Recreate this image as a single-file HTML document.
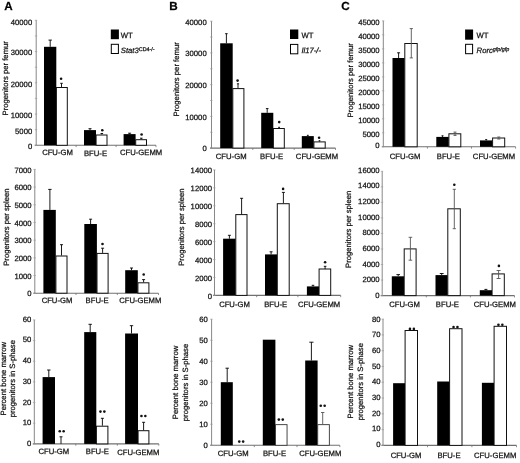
<!DOCTYPE html>
<html><head><meta charset="utf-8"><style>
html,body{margin:0;padding:0;background:#fff;}
svg{display:block;font-family:"Liberation Sans",sans-serif;will-change:transform;filter:blur(0.3px);}
text{stroke:#222;stroke-width:0.25px;paint-order:stroke;text-rendering:geometricPrecision;}
</style></head><body>
<svg width="520" height="463" viewBox="0 0 520 463">
<rect width="520" height="463" fill="#fff"/>
<line x1="36.2" y1="20.3" x2="36.2" y2="145.3" stroke="#888" stroke-width="1.0"/>
<line x1="34.7" y1="145.3" x2="156" y2="145.3" stroke="#707070" stroke-width="1.1"/>
<line x1="34.8" y1="20.3" x2="37.2" y2="20.3" stroke="#999" stroke-width="0.7"/>
<line x1="34.8" y1="35.93" x2="37.2" y2="35.93" stroke="#999" stroke-width="0.7"/>
<line x1="34.8" y1="51.55" x2="37.2" y2="51.55" stroke="#999" stroke-width="0.7"/>
<line x1="34.8" y1="67.18" x2="37.2" y2="67.18" stroke="#999" stroke-width="0.7"/>
<line x1="34.8" y1="82.8" x2="37.2" y2="82.8" stroke="#999" stroke-width="0.7"/>
<line x1="34.8" y1="98.43" x2="37.2" y2="98.43" stroke="#999" stroke-width="0.7"/>
<line x1="34.8" y1="114.05" x2="37.2" y2="114.05" stroke="#999" stroke-width="0.7"/>
<line x1="34.8" y1="129.68" x2="37.2" y2="129.68" stroke="#999" stroke-width="0.7"/>
<line x1="34.8" y1="145.3" x2="37.2" y2="145.3" stroke="#999" stroke-width="0.7"/>
<line x1="76.1" y1="145.3" x2="76.1" y2="147.1" stroke="#707070" stroke-width="0.8"/>
<line x1="116.1" y1="145.3" x2="116.1" y2="147.1" stroke="#707070" stroke-width="0.8"/>
<line x1="156" y1="145.3" x2="156" y2="147.1" stroke="#707070" stroke-width="0.8"/>
<text x="32.2" y="24.76" text-anchor="end" font-size="7.7" fill="#111">40000</text>
<text x="32.2" y="55.36" text-anchor="end" font-size="7.7" fill="#111">30000</text>
<text x="32.2" y="86.56" text-anchor="end" font-size="7.7" fill="#111">20000</text>
<text x="32.2" y="117.96" text-anchor="end" font-size="7.7" fill="#111">10000</text>
<text x="32.2" y="133.76" text-anchor="end" font-size="7.7" fill="#111">5000</text>
<text x="32.2" y="148.76" text-anchor="end" font-size="7.7" fill="#111">0</text>
<rect x="44" y="46.8" width="12.3" height="98.5" fill="#000"/>
<rect x="56.4" y="87.5" width="10.9" height="57.8" fill="#fff" stroke="#111" stroke-width="1.0"/>
<rect x="84" y="130.1" width="12" height="15.2" fill="#000"/>
<rect x="96.1" y="135" width="10.9" height="10.3" fill="#fff" stroke="#111" stroke-width="1.0"/>
<rect x="123.6" y="134.1" width="12" height="11.2" fill="#000"/>
<rect x="135.7" y="139.7" width="10.8" height="5.6" fill="#fff" stroke="#111" stroke-width="1.0"/>
<line x1="50.2" y1="40.1" x2="50.2" y2="46.8" stroke="#000" stroke-width="0.9"/>
<line x1="48.5" y1="40.1" x2="51.9" y2="40.1" stroke="#000" stroke-width="0.9"/>
<line x1="61.5" y1="83.3" x2="61.5" y2="87" stroke="#000" stroke-width="0.9"/>
<line x1="60.2" y1="83.3" x2="62.8" y2="83.3" stroke="#000" stroke-width="0.9"/>
<line x1="90" y1="128.7" x2="90" y2="130.1" stroke="#000" stroke-width="0.9"/>
<line x1="88.5" y1="128.7" x2="91.5" y2="128.7" stroke="#000" stroke-width="0.9"/>
<line x1="101.8" y1="133.5" x2="101.8" y2="134.5" stroke="#000" stroke-width="0.9"/>
<line x1="100.5" y1="133.5" x2="103.1" y2="133.5" stroke="#000" stroke-width="0.9"/>
<line x1="129.6" y1="133.2" x2="129.6" y2="134.1" stroke="#000" stroke-width="0.9"/>
<line x1="128.1" y1="133.2" x2="131.1" y2="133.2" stroke="#000" stroke-width="0.9"/>
<line x1="141.3" y1="138.2" x2="141.3" y2="139.2" stroke="#000" stroke-width="0.9"/>
<line x1="140" y1="138.2" x2="142.6" y2="138.2" stroke="#000" stroke-width="0.9"/>
<circle cx="61.1" cy="78.7" r="1.3" fill="#111"/>
<circle cx="102.3" cy="130.2" r="1.3" fill="#111"/>
<circle cx="141.6" cy="134.5" r="1.3" fill="#111"/>
<text x="57.5" y="155.16" text-anchor="middle" font-size="7.7" fill="#111">CFU-GM</text>
<text x="95.5" y="155.56" text-anchor="middle" font-size="7.7" fill="#111">BFU-E</text>
<text x="141.1" y="155.26" text-anchor="middle" font-size="7.7" fill="#111">CFU-GEMM</text>
<text transform="translate(8.2,78.3) rotate(-90)" text-anchor="middle" font-size="7.7" fill="#111">Progenitors per femur</text>
<line x1="34.8" y1="169.4" x2="34.8" y2="293.2" stroke="#888" stroke-width="1.0"/>
<line x1="33.3" y1="293.2" x2="158.5" y2="293.2" stroke="#707070" stroke-width="1.1"/>
<line x1="33.4" y1="169.4" x2="35.8" y2="169.4" stroke="#999" stroke-width="0.7"/>
<line x1="33.4" y1="187.09" x2="35.8" y2="187.09" stroke="#999" stroke-width="0.7"/>
<line x1="33.4" y1="204.77" x2="35.8" y2="204.77" stroke="#999" stroke-width="0.7"/>
<line x1="33.4" y1="222.46" x2="35.8" y2="222.46" stroke="#999" stroke-width="0.7"/>
<line x1="33.4" y1="240.14" x2="35.8" y2="240.14" stroke="#999" stroke-width="0.7"/>
<line x1="33.4" y1="257.83" x2="35.8" y2="257.83" stroke="#999" stroke-width="0.7"/>
<line x1="33.4" y1="275.51" x2="35.8" y2="275.51" stroke="#999" stroke-width="0.7"/>
<line x1="33.4" y1="293.2" x2="35.8" y2="293.2" stroke="#999" stroke-width="0.7"/>
<line x1="76" y1="293.2" x2="76" y2="295" stroke="#707070" stroke-width="0.8"/>
<line x1="117.3" y1="293.2" x2="117.3" y2="295" stroke="#707070" stroke-width="0.8"/>
<line x1="158.5" y1="293.2" x2="158.5" y2="295" stroke="#707070" stroke-width="0.8"/>
<text x="31.5" y="172.76" text-anchor="end" font-size="7.7" fill="#111">7000</text>
<text x="31.5" y="190.41" text-anchor="end" font-size="7.7" fill="#111">6000</text>
<text x="31.5" y="208.07" text-anchor="end" font-size="7.7" fill="#111">5000</text>
<text x="31.5" y="225.73" text-anchor="end" font-size="7.7" fill="#111">4000</text>
<text x="31.5" y="243.39" text-anchor="end" font-size="7.7" fill="#111">3000</text>
<text x="31.5" y="261.04" text-anchor="end" font-size="7.7" fill="#111">2000</text>
<text x="31.5" y="278.7" text-anchor="end" font-size="7.7" fill="#111">1000</text>
<text x="31.5" y="296.36" text-anchor="end" font-size="7.7" fill="#111">0</text>
<rect x="43.4" y="209.9" width="12.4" height="83.3" fill="#000"/>
<rect x="55.9" y="256" width="11.1" height="37.2" fill="#fff" stroke="#111" stroke-width="1.0"/>
<rect x="84.3" y="224" width="12.6" height="69.2" fill="#000"/>
<rect x="97" y="253.4" width="11.1" height="39.8" fill="#fff" stroke="#111" stroke-width="1.0"/>
<rect x="125.2" y="270.2" width="12.6" height="23" fill="#000"/>
<rect x="137.9" y="282.8" width="11" height="10.4" fill="#fff" stroke="#111" stroke-width="1.0"/>
<line x1="49.9" y1="189.4" x2="49.9" y2="209.9" stroke="#000" stroke-width="0.9"/>
<line x1="48.2" y1="189.4" x2="51.6" y2="189.4" stroke="#000" stroke-width="0.9"/>
<line x1="61.5" y1="244.7" x2="61.5" y2="255.5" stroke="#000" stroke-width="0.9"/>
<line x1="60" y1="244.7" x2="63" y2="244.7" stroke="#000" stroke-width="0.9"/>
<line x1="90.6" y1="219.2" x2="90.6" y2="224" stroke="#000" stroke-width="0.9"/>
<line x1="89.1" y1="219.2" x2="92.1" y2="219.2" stroke="#000" stroke-width="0.9"/>
<line x1="102.6" y1="248.2" x2="102.6" y2="252.9" stroke="#000" stroke-width="0.9"/>
<line x1="101.1" y1="248.2" x2="104.1" y2="248.2" stroke="#000" stroke-width="0.9"/>
<line x1="131.5" y1="268" x2="131.5" y2="270.2" stroke="#000" stroke-width="0.9"/>
<line x1="130" y1="268" x2="133" y2="268" stroke="#000" stroke-width="0.9"/>
<line x1="143.6" y1="279.6" x2="143.6" y2="282.3" stroke="#000" stroke-width="0.9"/>
<line x1="142.1" y1="279.6" x2="145.1" y2="279.6" stroke="#000" stroke-width="0.9"/>
<circle cx="102.5" cy="244" r="1.3" fill="#111"/>
<circle cx="143.7" cy="274.5" r="1.3" fill="#111"/>
<text x="57" y="303.26" text-anchor="middle" font-size="7.7" fill="#111">CFU-GM</text>
<text x="97.1" y="303.26" text-anchor="middle" font-size="7.7" fill="#111">BFU-E</text>
<text x="140.3" y="303.46" text-anchor="middle" font-size="7.7" fill="#111">CFU-GEMM</text>
<text transform="translate(8.5,227.1) rotate(-90)" text-anchor="middle" font-size="7.7" fill="#111">Progenitors per spleen</text>
<line x1="34.3" y1="319.9" x2="34.3" y2="443.9" stroke="#888" stroke-width="1.0"/>
<line x1="32.8" y1="443.9" x2="158.8" y2="443.9" stroke="#707070" stroke-width="1.1"/>
<line x1="32.9" y1="319.9" x2="35.3" y2="319.9" stroke="#999" stroke-width="0.7"/>
<line x1="32.9" y1="340.57" x2="35.3" y2="340.57" stroke="#999" stroke-width="0.7"/>
<line x1="32.9" y1="361.23" x2="35.3" y2="361.23" stroke="#999" stroke-width="0.7"/>
<line x1="32.9" y1="381.9" x2="35.3" y2="381.9" stroke="#999" stroke-width="0.7"/>
<line x1="32.9" y1="402.57" x2="35.3" y2="402.57" stroke="#999" stroke-width="0.7"/>
<line x1="32.9" y1="423.23" x2="35.3" y2="423.23" stroke="#999" stroke-width="0.7"/>
<line x1="32.9" y1="443.9" x2="35.3" y2="443.9" stroke="#999" stroke-width="0.7"/>
<line x1="75.8" y1="443.9" x2="75.8" y2="445.7" stroke="#707070" stroke-width="0.8"/>
<line x1="117.3" y1="443.9" x2="117.3" y2="445.7" stroke="#707070" stroke-width="0.8"/>
<line x1="158.8" y1="443.9" x2="158.8" y2="445.7" stroke="#707070" stroke-width="0.8"/>
<text x="31.3" y="321.66" text-anchor="end" font-size="7.7" fill="#111">60</text>
<text x="31.3" y="342.42" text-anchor="end" font-size="7.7" fill="#111">50</text>
<text x="31.3" y="363.19" text-anchor="end" font-size="7.7" fill="#111">40</text>
<text x="31.3" y="383.96" text-anchor="end" font-size="7.7" fill="#111">30</text>
<text x="31.3" y="404.72" text-anchor="end" font-size="7.7" fill="#111">20</text>
<text x="31.3" y="425.49" text-anchor="end" font-size="7.7" fill="#111">10</text>
<text x="31.3" y="446.26" text-anchor="end" font-size="7.7" fill="#111">0</text>
<rect x="42.6" y="377.1" width="12.4" height="66.8" fill="#000"/>
<rect x="84.2" y="332.1" width="12.1" height="111.8" fill="#000"/>
<rect x="96.4" y="426.2" width="11.5" height="17.7" fill="#fff" stroke="#111" stroke-width="1.0"/>
<rect x="125.1" y="333.5" width="12.9" height="110.4" fill="#000"/>
<rect x="138.1" y="430.7" width="10.8" height="13.2" fill="#fff" stroke="#111" stroke-width="1.0"/>
<line x1="48.8" y1="370" x2="48.8" y2="377.1" stroke="#000" stroke-width="0.9"/>
<line x1="47.1" y1="370" x2="50.5" y2="370" stroke="#000" stroke-width="0.9"/>
<line x1="61" y1="436.8" x2="61" y2="443.8" stroke="#000" stroke-width="0.9"/>
<line x1="59.5" y1="436.8" x2="62.5" y2="436.8" stroke="#000" stroke-width="0.9"/>
<line x1="90.2" y1="324.3" x2="90.2" y2="332.1" stroke="#000" stroke-width="0.9"/>
<line x1="88.5" y1="324.3" x2="91.9" y2="324.3" stroke="#000" stroke-width="0.9"/>
<line x1="102.4" y1="418.3" x2="102.4" y2="425.7" stroke="#000" stroke-width="0.9"/>
<line x1="100.9" y1="418.3" x2="103.9" y2="418.3" stroke="#000" stroke-width="0.9"/>
<line x1="131.5" y1="325.7" x2="131.5" y2="333.5" stroke="#000" stroke-width="0.9"/>
<line x1="129.8" y1="325.7" x2="133.2" y2="325.7" stroke="#000" stroke-width="0.9"/>
<line x1="143.6" y1="422.3" x2="143.6" y2="430.2" stroke="#000" stroke-width="0.9"/>
<line x1="142.1" y1="422.3" x2="145.1" y2="422.3" stroke="#000" stroke-width="0.9"/>
<circle cx="59.75" cy="431.2" r="1.3" fill="#111"/>
<circle cx="63.65" cy="431.2" r="1.3" fill="#111"/>
<circle cx="100.45" cy="411.6" r="1.3" fill="#111"/>
<circle cx="104.35" cy="411.6" r="1.3" fill="#111"/>
<circle cx="141.45" cy="416" r="1.3" fill="#111"/>
<circle cx="145.35" cy="416" r="1.3" fill="#111"/>
<text x="53.9" y="454.46" text-anchor="middle" font-size="7.7" fill="#111">CFU-GM</text>
<text x="97.3" y="454.16" text-anchor="middle" font-size="7.7" fill="#111">BFU-E</text>
<text x="138.3" y="454.96" text-anchor="middle" font-size="7.7" fill="#111">CFU-GEMM</text>
<text transform="translate(6.1,378.7) rotate(-90)" text-anchor="middle" font-size="7.7" fill="#111">Percent bone marrow</text>
<text transform="translate(15.2,378.7) rotate(-90)" text-anchor="middle" font-size="7.7" fill="#111">progenitors in S-phase</text>
<line x1="211.5" y1="21.2" x2="211.5" y2="148.1" stroke="#888" stroke-width="1.0"/>
<line x1="210" y1="148.1" x2="335.5" y2="148.1" stroke="#707070" stroke-width="1.1"/>
<line x1="210.1" y1="21.2" x2="212.5" y2="21.2" stroke="#999" stroke-width="0.7"/>
<line x1="210.1" y1="37.06" x2="212.5" y2="37.06" stroke="#999" stroke-width="0.7"/>
<line x1="210.1" y1="52.92" x2="212.5" y2="52.92" stroke="#999" stroke-width="0.7"/>
<line x1="210.1" y1="68.79" x2="212.5" y2="68.79" stroke="#999" stroke-width="0.7"/>
<line x1="210.1" y1="84.65" x2="212.5" y2="84.65" stroke="#999" stroke-width="0.7"/>
<line x1="210.1" y1="100.51" x2="212.5" y2="100.51" stroke="#999" stroke-width="0.7"/>
<line x1="210.1" y1="116.38" x2="212.5" y2="116.38" stroke="#999" stroke-width="0.7"/>
<line x1="210.1" y1="132.24" x2="212.5" y2="132.24" stroke="#999" stroke-width="0.7"/>
<line x1="210.1" y1="148.1" x2="212.5" y2="148.1" stroke="#999" stroke-width="0.7"/>
<line x1="252.8" y1="148.1" x2="252.8" y2="149.9" stroke="#707070" stroke-width="0.8"/>
<line x1="294.2" y1="148.1" x2="294.2" y2="149.9" stroke="#707070" stroke-width="0.8"/>
<line x1="335.5" y1="148.1" x2="335.5" y2="149.9" stroke="#707070" stroke-width="0.8"/>
<text x="206.7" y="24.56" text-anchor="end" font-size="7.7" fill="#111">40000</text>
<text x="206.7" y="56.26" text-anchor="end" font-size="7.7" fill="#111">30000</text>
<text x="206.7" y="87.96" text-anchor="end" font-size="7.7" fill="#111">20000</text>
<text x="206.7" y="119.66" text-anchor="end" font-size="7.7" fill="#111">10000</text>
<text x="206.7" y="151.36" text-anchor="end" font-size="7.7" fill="#111">0</text>
<rect x="220.2" y="43.3" width="12.5" height="104.8" fill="#000"/>
<rect x="232.8" y="88.6" width="11.1" height="59.5" fill="#fff" stroke="#111" stroke-width="1.0"/>
<rect x="261.2" y="112.8" width="12.1" height="35.3" fill="#000"/>
<rect x="273.4" y="128.5" width="10.9" height="19.6" fill="#fff" stroke="#111" stroke-width="1.0"/>
<rect x="301.8" y="136.1" width="12" height="12" fill="#000"/>
<rect x="313.9" y="141.9" width="11.3" height="6.2" fill="#fff" stroke="#111" stroke-width="1.0"/>
<line x1="226.4" y1="33.7" x2="226.4" y2="43.3" stroke="#000" stroke-width="0.9"/>
<line x1="225.1" y1="33.7" x2="227.7" y2="33.7" stroke="#000" stroke-width="0.9"/>
<line x1="238" y1="83.8" x2="238" y2="88.1" stroke="#000" stroke-width="0.9"/>
<line x1="236.9" y1="83.8" x2="239.1" y2="83.8" stroke="#000" stroke-width="0.9"/>
<line x1="267.2" y1="108.6" x2="267.2" y2="112.8" stroke="#000" stroke-width="0.9"/>
<line x1="265.9" y1="108.6" x2="268.5" y2="108.6" stroke="#000" stroke-width="0.9"/>
<line x1="279.1" y1="127.3" x2="279.1" y2="128" stroke="#000" stroke-width="0.9"/>
<line x1="278.2" y1="127.3" x2="280" y2="127.3" stroke="#000" stroke-width="0.9"/>
<line x1="307.8" y1="135.3" x2="307.8" y2="136.1" stroke="#000" stroke-width="0.9"/>
<line x1="306.9" y1="135.3" x2="308.7" y2="135.3" stroke="#000" stroke-width="0.9"/>
<line x1="319.5" y1="140.7" x2="319.5" y2="141.4" stroke="#000" stroke-width="0.9"/>
<line x1="318.6" y1="140.7" x2="320.4" y2="140.7" stroke="#000" stroke-width="0.9"/>
<circle cx="237.6" cy="80.6" r="1.3" fill="#111"/>
<circle cx="279.2" cy="122.1" r="1.3" fill="#111"/>
<circle cx="319.1" cy="137.7" r="1.3" fill="#111"/>
<text x="231.2" y="158.96" text-anchor="middle" font-size="7.7" fill="#111">CFU-GM</text>
<text x="271.6" y="158.56" text-anchor="middle" font-size="7.7" fill="#111">BFU-E</text>
<text x="317" y="158.76" text-anchor="middle" font-size="7.7" fill="#111">CFU-GEMM</text>
<text transform="translate(179.35,79.45) rotate(-90)" text-anchor="middle" font-size="7.7" fill="#111">Progenitors per femur</text>
<line x1="214.5" y1="169.9" x2="214.5" y2="295.4" stroke="#888" stroke-width="1.0"/>
<line x1="213" y1="295.4" x2="340.7" y2="295.4" stroke="#707070" stroke-width="1.1"/>
<line x1="213.1" y1="169.9" x2="215.5" y2="169.9" stroke="#999" stroke-width="0.7"/>
<line x1="213.1" y1="187.83" x2="215.5" y2="187.83" stroke="#999" stroke-width="0.7"/>
<line x1="213.1" y1="205.76" x2="215.5" y2="205.76" stroke="#999" stroke-width="0.7"/>
<line x1="213.1" y1="223.69" x2="215.5" y2="223.69" stroke="#999" stroke-width="0.7"/>
<line x1="213.1" y1="241.61" x2="215.5" y2="241.61" stroke="#999" stroke-width="0.7"/>
<line x1="213.1" y1="259.54" x2="215.5" y2="259.54" stroke="#999" stroke-width="0.7"/>
<line x1="213.1" y1="277.47" x2="215.5" y2="277.47" stroke="#999" stroke-width="0.7"/>
<line x1="213.1" y1="295.4" x2="215.5" y2="295.4" stroke="#999" stroke-width="0.7"/>
<line x1="256.7" y1="295.4" x2="256.7" y2="297.2" stroke="#707070" stroke-width="0.8"/>
<line x1="297.9" y1="295.4" x2="297.9" y2="297.2" stroke="#707070" stroke-width="0.8"/>
<line x1="340.7" y1="295.4" x2="340.7" y2="297.2" stroke="#707070" stroke-width="0.8"/>
<text x="212" y="172.56" text-anchor="end" font-size="7.7" fill="#111">14000</text>
<text x="212" y="190.6" text-anchor="end" font-size="7.7" fill="#111">12000</text>
<text x="212" y="208.64" text-anchor="end" font-size="7.7" fill="#111">10000</text>
<text x="212" y="226.69" text-anchor="end" font-size="7.7" fill="#111">8000</text>
<text x="212" y="244.73" text-anchor="end" font-size="7.7" fill="#111">6000</text>
<text x="212" y="262.77" text-anchor="end" font-size="7.7" fill="#111">4000</text>
<text x="212" y="280.81" text-anchor="end" font-size="7.7" fill="#111">2000</text>
<text x="212" y="298.86" text-anchor="end" font-size="7.7" fill="#111">0</text>
<rect x="223.1" y="238.7" width="12.6" height="56.7" fill="#000"/>
<rect x="235.8" y="214.6" width="11.2" height="80.8" fill="#fff" stroke="#111" stroke-width="1.0"/>
<rect x="265" y="254.4" width="12.2" height="41" fill="#000"/>
<rect x="277.3" y="203.7" width="11.9" height="91.7" fill="#fff" stroke="#111" stroke-width="1.0"/>
<rect x="306.9" y="286.4" width="12.1" height="9" fill="#000"/>
<rect x="319.1" y="269" width="11.6" height="26.4" fill="#fff" stroke="#111" stroke-width="1.0"/>
<line x1="229.4" y1="235.3" x2="229.4" y2="238.7" stroke="#000" stroke-width="0.9"/>
<line x1="227.9" y1="235.3" x2="230.9" y2="235.3" stroke="#000" stroke-width="0.9"/>
<line x1="241.6" y1="198.3" x2="241.6" y2="214.1" stroke="#000" stroke-width="0.9"/>
<line x1="240.1" y1="198.3" x2="243.1" y2="198.3" stroke="#000" stroke-width="0.9"/>
<line x1="271.1" y1="251.8" x2="271.1" y2="254.4" stroke="#000" stroke-width="0.9"/>
<line x1="269.6" y1="251.8" x2="272.6" y2="251.8" stroke="#000" stroke-width="0.9"/>
<line x1="283.4" y1="192.4" x2="283.4" y2="203.2" stroke="#000" stroke-width="0.9"/>
<line x1="281.9" y1="192.4" x2="284.9" y2="192.4" stroke="#000" stroke-width="0.9"/>
<line x1="313" y1="285.3" x2="313" y2="286.4" stroke="#000" stroke-width="0.9"/>
<line x1="311.7" y1="285.3" x2="314.3" y2="285.3" stroke="#000" stroke-width="0.9"/>
<line x1="325.1" y1="266.3" x2="325.1" y2="269.1" stroke="#000" stroke-width="0.9"/>
<line x1="323.8" y1="266.3" x2="326.4" y2="266.3" stroke="#000" stroke-width="0.9"/>
<circle cx="283.1" cy="188.9" r="1.3" fill="#111"/>
<circle cx="325.1" cy="262.2" r="1.3" fill="#111"/>
<text x="234.5" y="306.86" text-anchor="middle" font-size="7.7" fill="#111">CFU-GM</text>
<text x="275.7" y="306.66" text-anchor="middle" font-size="7.7" fill="#111">BFU-E</text>
<text x="319.1" y="306.66" text-anchor="middle" font-size="7.7" fill="#111">CFU-GEMM</text>
<text transform="translate(183.5,227.1) rotate(-90)" text-anchor="middle" font-size="7.7" fill="#111">Progenitors per spleen</text>
<line x1="211.6" y1="319.2" x2="211.6" y2="445.3" stroke="#888" stroke-width="1.0"/>
<line x1="210.1" y1="445.3" x2="339.8" y2="445.3" stroke="#707070" stroke-width="1.1"/>
<line x1="210.2" y1="319.2" x2="212.6" y2="319.2" stroke="#999" stroke-width="0.7"/>
<line x1="210.2" y1="340.22" x2="212.6" y2="340.22" stroke="#999" stroke-width="0.7"/>
<line x1="210.2" y1="361.23" x2="212.6" y2="361.23" stroke="#999" stroke-width="0.7"/>
<line x1="210.2" y1="382.25" x2="212.6" y2="382.25" stroke="#999" stroke-width="0.7"/>
<line x1="210.2" y1="403.27" x2="212.6" y2="403.27" stroke="#999" stroke-width="0.7"/>
<line x1="210.2" y1="424.28" x2="212.6" y2="424.28" stroke="#999" stroke-width="0.7"/>
<line x1="210.2" y1="445.3" x2="212.6" y2="445.3" stroke="#999" stroke-width="0.7"/>
<line x1="254.3" y1="445.3" x2="254.3" y2="447.1" stroke="#707070" stroke-width="0.8"/>
<line x1="297" y1="445.3" x2="297" y2="447.1" stroke="#707070" stroke-width="0.8"/>
<line x1="339.8" y1="445.3" x2="339.8" y2="447.1" stroke="#707070" stroke-width="0.8"/>
<text x="207.7" y="321.66" text-anchor="end" font-size="7.7" fill="#111">60</text>
<text x="207.7" y="342.69" text-anchor="end" font-size="7.7" fill="#111">50</text>
<text x="207.7" y="363.72" text-anchor="end" font-size="7.7" fill="#111">40</text>
<text x="207.7" y="384.76" text-anchor="end" font-size="7.7" fill="#111">30</text>
<text x="207.7" y="405.79" text-anchor="end" font-size="7.7" fill="#111">20</text>
<text x="207.7" y="426.82" text-anchor="end" font-size="7.7" fill="#111">10</text>
<text x="207.7" y="447.86" text-anchor="end" font-size="7.7" fill="#111">0</text>
<rect x="220.8" y="382.2" width="12" height="63.1" fill="#000"/>
<rect x="262.8" y="339.7" width="12.6" height="105.6" fill="#000"/>
<rect x="275.5" y="424.65" width="11.55" height="20.65" fill="#fff" stroke="#333" stroke-width="0.9"/>
<rect x="305.2" y="360.5" width="12.4" height="84.8" fill="#000"/>
<rect x="317.7" y="424.65" width="11.65" height="20.65" fill="#fff" stroke="#333" stroke-width="0.9"/>
<line x1="227.2" y1="368.2" x2="227.2" y2="382.2" stroke="#000" stroke-width="0.9"/>
<line x1="225.5" y1="368.2" x2="228.9" y2="368.2" stroke="#000" stroke-width="0.9"/>
<line x1="311.4" y1="342.2" x2="311.4" y2="360.5" stroke="#000" stroke-width="0.9"/>
<line x1="309.3" y1="342.2" x2="313.5" y2="342.2" stroke="#000" stroke-width="0.9"/>
<line x1="322.7" y1="412.5" x2="322.7" y2="424.2" stroke="#555" stroke-width="0.9"/>
<line x1="321" y1="412.5" x2="324.4" y2="412.5" stroke="#555" stroke-width="0.9"/>
<circle cx="239.25" cy="441.6" r="1.3" fill="#111"/>
<circle cx="243.15" cy="441.6" r="1.3" fill="#111"/>
<circle cx="278.85" cy="419.6" r="1.3" fill="#111"/>
<circle cx="282.75" cy="419.6" r="1.3" fill="#111"/>
<circle cx="320.75" cy="405.8" r="1.3" fill="#111"/>
<circle cx="324.65" cy="405.8" r="1.3" fill="#111"/>
<text x="233.2" y="456.26" text-anchor="middle" font-size="7.7" fill="#111">CFU-GM</text>
<text x="274.5" y="456.06" text-anchor="middle" font-size="7.7" fill="#111">BFU-E</text>
<text x="320.3" y="456.06" text-anchor="middle" font-size="7.7" fill="#111">CFU-GEMM</text>
<text transform="translate(178.2,382.5) rotate(-90)" text-anchor="middle" font-size="7.7" fill="#111">Percent bone marrow</text>
<text transform="translate(187.5,382.5) rotate(-90)" text-anchor="middle" font-size="7.7" fill="#111">progenitors in S-phase</text>
<line x1="383.3" y1="20.9" x2="383.3" y2="146.8" stroke="#888" stroke-width="1.0"/>
<line x1="381.8" y1="146.8" x2="515.6" y2="146.8" stroke="#707070" stroke-width="1.1"/>
<line x1="381.9" y1="20.9" x2="384.3" y2="20.9" stroke="#999" stroke-width="0.7"/>
<line x1="381.9" y1="34.89" x2="384.3" y2="34.89" stroke="#999" stroke-width="0.7"/>
<line x1="381.9" y1="48.88" x2="384.3" y2="48.88" stroke="#999" stroke-width="0.7"/>
<line x1="381.9" y1="62.87" x2="384.3" y2="62.87" stroke="#999" stroke-width="0.7"/>
<line x1="381.9" y1="76.86" x2="384.3" y2="76.86" stroke="#999" stroke-width="0.7"/>
<line x1="381.9" y1="90.84" x2="384.3" y2="90.84" stroke="#999" stroke-width="0.7"/>
<line x1="381.9" y1="104.83" x2="384.3" y2="104.83" stroke="#999" stroke-width="0.7"/>
<line x1="381.9" y1="118.82" x2="384.3" y2="118.82" stroke="#999" stroke-width="0.7"/>
<line x1="381.9" y1="132.81" x2="384.3" y2="132.81" stroke="#999" stroke-width="0.7"/>
<line x1="381.9" y1="146.8" x2="384.3" y2="146.8" stroke="#999" stroke-width="0.7"/>
<line x1="427.4" y1="146.8" x2="427.4" y2="148.6" stroke="#707070" stroke-width="0.8"/>
<line x1="471.5" y1="146.8" x2="471.5" y2="148.6" stroke="#707070" stroke-width="0.8"/>
<line x1="515.6" y1="146.8" x2="515.6" y2="148.6" stroke="#707070" stroke-width="0.8"/>
<text x="379.6" y="25.16" text-anchor="end" font-size="7.7" fill="#111">45000</text>
<text x="379.6" y="39.06" text-anchor="end" font-size="7.7" fill="#111">40000</text>
<text x="379.6" y="53.06" text-anchor="end" font-size="7.7" fill="#111">35000</text>
<text x="379.6" y="67.06" text-anchor="end" font-size="7.7" fill="#111">30000</text>
<text x="379.6" y="81.06" text-anchor="end" font-size="7.7" fill="#111">25000</text>
<text x="379.6" y="95.06" text-anchor="end" font-size="7.7" fill="#111">20000</text>
<text x="379.6" y="108.96" text-anchor="end" font-size="7.7" fill="#111">15000</text>
<text x="379.6" y="122.76" text-anchor="end" font-size="7.7" fill="#111">10000</text>
<text x="379.6" y="136.86" text-anchor="end" font-size="7.7" fill="#111">5000</text>
<text x="379.6" y="147.86" text-anchor="end" font-size="7.7" fill="#111">0</text>
<rect x="392.5" y="58" width="12.2" height="88.8" fill="#000"/>
<rect x="404.8" y="43.5" width="12.4" height="103.3" fill="#fff" stroke="#111" stroke-width="1.0"/>
<rect x="436.3" y="136.9" width="12.5" height="9.9" fill="#000"/>
<rect x="448.9" y="133.8" width="11.9" height="13" fill="#fff" stroke="#111" stroke-width="1.0"/>
<rect x="480" y="140.4" width="12.5" height="6.4" fill="#000"/>
<rect x="492.6" y="138" width="12.1" height="8.8" fill="#fff" stroke="#111" stroke-width="1.0"/>
<line x1="398.6" y1="52.8" x2="398.6" y2="58" stroke="#000" stroke-width="0.9"/>
<line x1="397.1" y1="52.8" x2="400.1" y2="52.8" stroke="#000" stroke-width="0.9"/>
<line x1="411.3" y1="28.6" x2="411.3" y2="57.9" stroke="#555" stroke-width="0.9"/>
<line x1="409.7" y1="28.6" x2="412.9" y2="28.6" stroke="#555" stroke-width="0.9"/>
<line x1="409.7" y1="57.9" x2="412.9" y2="57.9" stroke="#555" stroke-width="0.9"/>
<line x1="442.5" y1="135.8" x2="442.5" y2="136.9" stroke="#000" stroke-width="0.9"/>
<line x1="441.5" y1="135.8" x2="443.5" y2="135.8" stroke="#000" stroke-width="0.9"/>
<line x1="455" y1="132.1" x2="455" y2="135.4" stroke="#555" stroke-width="0.9"/>
<line x1="453.5" y1="132.1" x2="456.5" y2="132.1" stroke="#555" stroke-width="0.9"/>
<line x1="453.5" y1="135.4" x2="456.5" y2="135.4" stroke="#555" stroke-width="0.9"/>
<line x1="486.2" y1="139.6" x2="486.2" y2="140.4" stroke="#000" stroke-width="0.9"/>
<line x1="485.2" y1="139.6" x2="487.2" y2="139.6" stroke="#000" stroke-width="0.9"/>
<line x1="498.8" y1="137" x2="498.8" y2="139" stroke="#555" stroke-width="0.9"/>
<line x1="497.3" y1="137" x2="500.3" y2="137" stroke="#555" stroke-width="0.9"/>
<line x1="497.3" y1="139" x2="500.3" y2="139" stroke="#555" stroke-width="0.9"/>
<text x="405.1" y="158.56" text-anchor="middle" font-size="7.7" fill="#111">CFU-GM</text>
<text x="448.3" y="158.56" text-anchor="middle" font-size="7.7" fill="#111">BFU-E</text>
<text x="494" y="158.56" text-anchor="middle" font-size="7.7" fill="#111">CFU-GEMM</text>
<text transform="translate(352.85,80.25) rotate(-90)" text-anchor="middle" font-size="7.7" fill="#111">Progenitors per femur</text>
<line x1="382.2" y1="171.3" x2="382.2" y2="295.6" stroke="#888" stroke-width="1.0"/>
<line x1="380.7" y1="295.6" x2="514.5" y2="295.6" stroke="#707070" stroke-width="1.1"/>
<line x1="380.8" y1="171.3" x2="383.2" y2="171.3" stroke="#999" stroke-width="0.7"/>
<line x1="380.8" y1="186.84" x2="383.2" y2="186.84" stroke="#999" stroke-width="0.7"/>
<line x1="380.8" y1="202.38" x2="383.2" y2="202.38" stroke="#999" stroke-width="0.7"/>
<line x1="380.8" y1="217.91" x2="383.2" y2="217.91" stroke="#999" stroke-width="0.7"/>
<line x1="380.8" y1="233.45" x2="383.2" y2="233.45" stroke="#999" stroke-width="0.7"/>
<line x1="380.8" y1="248.99" x2="383.2" y2="248.99" stroke="#999" stroke-width="0.7"/>
<line x1="380.8" y1="264.53" x2="383.2" y2="264.53" stroke="#999" stroke-width="0.7"/>
<line x1="380.8" y1="280.06" x2="383.2" y2="280.06" stroke="#999" stroke-width="0.7"/>
<line x1="380.8" y1="295.6" x2="383.2" y2="295.6" stroke="#999" stroke-width="0.7"/>
<line x1="426.3" y1="295.6" x2="426.3" y2="297.4" stroke="#707070" stroke-width="0.8"/>
<line x1="470.4" y1="295.6" x2="470.4" y2="297.4" stroke="#707070" stroke-width="0.8"/>
<line x1="514.5" y1="295.6" x2="514.5" y2="297.4" stroke="#707070" stroke-width="0.8"/>
<text x="379.5" y="172.86" text-anchor="end" font-size="7.7" fill="#111">16000</text>
<text x="379.5" y="188.47" text-anchor="end" font-size="7.7" fill="#111">14000</text>
<text x="379.5" y="204.08" text-anchor="end" font-size="7.7" fill="#111">12000</text>
<text x="379.5" y="219.69" text-anchor="end" font-size="7.7" fill="#111">10000</text>
<text x="379.5" y="235.31" text-anchor="end" font-size="7.7" fill="#111">8000</text>
<text x="379.5" y="250.92" text-anchor="end" font-size="7.7" fill="#111">6000</text>
<text x="379.5" y="266.53" text-anchor="end" font-size="7.7" fill="#111">4000</text>
<text x="379.5" y="282.14" text-anchor="end" font-size="7.7" fill="#111">2000</text>
<text x="379.5" y="297.76" text-anchor="end" font-size="7.7" fill="#111">0</text>
<rect x="391.8" y="276.3" width="12.3" height="19.3" fill="#000"/>
<rect x="404.2" y="248.9" width="11.9" height="46.7" fill="#fff" stroke="#111" stroke-width="1.0"/>
<rect x="435.5" y="275.1" width="12.2" height="20.5" fill="#000"/>
<rect x="447.8" y="208.8" width="12.5" height="86.8" fill="#fff" stroke="#111" stroke-width="1.0"/>
<rect x="479.8" y="290.2" width="12.2" height="5.4" fill="#000"/>
<rect x="492.1" y="273.9" width="12.2" height="21.7" fill="#fff" stroke="#111" stroke-width="1.0"/>
<line x1="398.2" y1="274.6" x2="398.2" y2="276.1" stroke="#000" stroke-width="0.9"/>
<line x1="396.4" y1="274.6" x2="400" y2="274.6" stroke="#000" stroke-width="0.9"/>
<line x1="410.4" y1="237.3" x2="410.4" y2="260.2" stroke="#555" stroke-width="0.9"/>
<line x1="408.6" y1="237.3" x2="412.2" y2="237.3" stroke="#555" stroke-width="0.9"/>
<line x1="408.6" y1="260.2" x2="412.2" y2="260.2" stroke="#555" stroke-width="0.9"/>
<line x1="441.7" y1="273.5" x2="441.7" y2="275.1" stroke="#000" stroke-width="0.9"/>
<line x1="439.8" y1="273.5" x2="443.6" y2="273.5" stroke="#000" stroke-width="0.9"/>
<line x1="454.3" y1="189.3" x2="454.3" y2="228.7" stroke="#555" stroke-width="0.9"/>
<line x1="452.7" y1="189.3" x2="455.9" y2="189.3" stroke="#555" stroke-width="0.9"/>
<line x1="452.7" y1="228.7" x2="455.9" y2="228.7" stroke="#555" stroke-width="0.9"/>
<line x1="485.9" y1="289.4" x2="485.9" y2="290.2" stroke="#000" stroke-width="0.9"/>
<line x1="484.4" y1="289.4" x2="487.4" y2="289.4" stroke="#000" stroke-width="0.9"/>
<line x1="498.6" y1="270.5" x2="498.6" y2="278.5" stroke="#555" stroke-width="0.9"/>
<line x1="496.6" y1="270.5" x2="500.6" y2="270.5" stroke="#555" stroke-width="0.9"/>
<line x1="496.6" y1="278.5" x2="500.6" y2="278.5" stroke="#555" stroke-width="0.9"/>
<circle cx="454.3" cy="184.8" r="1.3" fill="#111"/>
<circle cx="498.9" cy="265.9" r="1.3" fill="#111"/>
<text x="404.6" y="307.06" text-anchor="middle" font-size="7.7" fill="#111">CFU-GM</text>
<text x="447.4" y="307.26" text-anchor="middle" font-size="7.7" fill="#111">BFU-E</text>
<text x="494.9" y="307.26" text-anchor="middle" font-size="7.7" fill="#111">CFU-GEMM</text>
<text transform="translate(351.4,229.3) rotate(-90)" text-anchor="middle" font-size="7.7" fill="#111">Progenitors per spleen</text>
<line x1="383" y1="319.1" x2="383" y2="445.4" stroke="#888" stroke-width="1.0"/>
<line x1="381.5" y1="445.4" x2="516.5" y2="445.4" stroke="#707070" stroke-width="1.1"/>
<line x1="381.6" y1="319.1" x2="384" y2="319.1" stroke="#999" stroke-width="0.7"/>
<line x1="381.6" y1="334.89" x2="384" y2="334.89" stroke="#999" stroke-width="0.7"/>
<line x1="381.6" y1="350.68" x2="384" y2="350.68" stroke="#999" stroke-width="0.7"/>
<line x1="381.6" y1="366.46" x2="384" y2="366.46" stroke="#999" stroke-width="0.7"/>
<line x1="381.6" y1="382.25" x2="384" y2="382.25" stroke="#999" stroke-width="0.7"/>
<line x1="381.6" y1="398.04" x2="384" y2="398.04" stroke="#999" stroke-width="0.7"/>
<line x1="381.6" y1="413.82" x2="384" y2="413.82" stroke="#999" stroke-width="0.7"/>
<line x1="381.6" y1="429.61" x2="384" y2="429.61" stroke="#999" stroke-width="0.7"/>
<line x1="381.6" y1="445.4" x2="384" y2="445.4" stroke="#999" stroke-width="0.7"/>
<line x1="427.5" y1="445.4" x2="427.5" y2="447.2" stroke="#707070" stroke-width="0.8"/>
<line x1="471.9" y1="445.4" x2="471.9" y2="447.2" stroke="#707070" stroke-width="0.8"/>
<line x1="516.5" y1="445.4" x2="516.5" y2="447.2" stroke="#707070" stroke-width="0.8"/>
<text x="380.5" y="321.66" text-anchor="end" font-size="7.7" fill="#111">80</text>
<text x="380.5" y="337.32" text-anchor="end" font-size="7.7" fill="#111">70</text>
<text x="380.5" y="352.98" text-anchor="end" font-size="7.7" fill="#111">60</text>
<text x="380.5" y="368.64" text-anchor="end" font-size="7.7" fill="#111">50</text>
<text x="380.5" y="384.31" text-anchor="end" font-size="7.7" fill="#111">40</text>
<text x="380.5" y="399.97" text-anchor="end" font-size="7.7" fill="#111">30</text>
<text x="380.5" y="415.63" text-anchor="end" font-size="7.7" fill="#111">20</text>
<text x="380.5" y="431.29" text-anchor="end" font-size="7.7" fill="#111">10</text>
<text x="380.5" y="446.96" text-anchor="end" font-size="7.7" fill="#111">0</text>
<rect x="393.1" y="383.2" width="11.9" height="62.2" fill="#000"/>
<rect x="405.1" y="330.5" width="12.4" height="114.9" fill="#fff" stroke="#111" stroke-width="1.0"/>
<rect x="437.2" y="381.5" width="12.3" height="63.9" fill="#000"/>
<rect x="449.6" y="328.7" width="12.4" height="116.7" fill="#fff" stroke="#111" stroke-width="1.0"/>
<rect x="481.9" y="382.8" width="12.1" height="62.6" fill="#000"/>
<rect x="494.1" y="326.3" width="12.4" height="119.1" fill="#fff" stroke="#111" stroke-width="1.0"/>
<circle cx="409.95" cy="328.9" r="1.3" fill="#111"/>
<circle cx="413.85" cy="328.9" r="1.3" fill="#111"/>
<circle cx="453.55" cy="327" r="1.3" fill="#111"/>
<circle cx="457.45" cy="327" r="1.3" fill="#111"/>
<circle cx="498.45" cy="324.7" r="1.3" fill="#111"/>
<circle cx="502.35" cy="324.7" r="1.3" fill="#111"/>
<text x="406" y="458.06" text-anchor="middle" font-size="7.7" fill="#111">CFU-GM</text>
<text x="449" y="457.86" text-anchor="middle" font-size="7.7" fill="#111">BFU-E</text>
<text x="495.2" y="457.86" text-anchor="middle" font-size="7.7" fill="#111">CFU-GEMM</text>
<text transform="translate(353.3,381.7) rotate(-90)" text-anchor="middle" font-size="7.7" fill="#111">Percent bone marrow</text>
<text transform="translate(362.5,381.7) rotate(-90)" text-anchor="middle" font-size="7.7" fill="#111">progenitors in S-phase</text>
<rect x="110.8" y="29.5" width="8.1" height="9.7" fill="#000"/>
<rect x="111.3" y="44.3" width="7.1" height="9.2" fill="#fff" stroke="#000" stroke-width="1"/>
<text x="120.8" y="38.16" text-anchor="start" font-size="7.7" fill="#111">WT</text>
<text x="120.8" y="52.56" font-size="7.7" fill="#111"><tspan font-style="italic">Stat3</tspan><tspan font-size="5.4" dy="-1.6">CD4-/-</tspan></text>
<rect x="290" y="29.5" width="8.3" height="9.5" fill="#000"/>
<rect x="290.5" y="44.4" width="7.3" height="9.4" fill="#fff" stroke="#000" stroke-width="1"/>
<text x="301.4" y="38.36" text-anchor="start" font-size="7.7" fill="#111">WT</text>
<text x="301.4" y="53.06" font-size="7.7" fill="#111"><tspan font-style="italic">Il17-/-</tspan></text>
<rect x="465.1" y="29.5" width="8" height="10.2" fill="#000"/>
<rect x="465.6" y="44.3" width="7" height="9.4" fill="#fff" stroke="#000" stroke-width="1"/>
<text x="476.6" y="38.16" text-anchor="start" font-size="7.7" fill="#111">WT</text>
<text x="476.6" y="52.76" font-size="7.7" fill="#111"><tspan font-style="italic">Rorc</tspan><tspan font-size="5.4" dy="-2.1" font-style="italic">gfp/gfp</tspan></text>
<text x="4.3" y="9.8" text-anchor="start" font-size="11.7" font-weight="bold" fill="#000">A</text>
<text x="169.3" y="10.4" text-anchor="start" font-size="11.7" font-weight="bold" fill="#000">B</text>
<text x="341.2" y="10.4" text-anchor="start" font-size="11.7" font-weight="bold" fill="#000">C</text>
</svg>
</body></html>
